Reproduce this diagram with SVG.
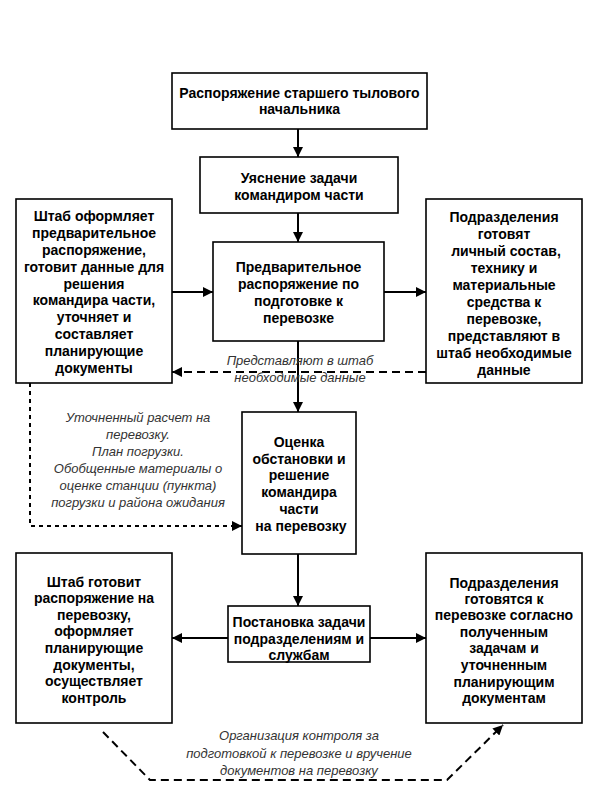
<svg xmlns="http://www.w3.org/2000/svg" width="599" height="793" viewBox="0 0 599 793">
<style>
.box{fill:#fff;stroke:#000;stroke-width:1.6}
.t{font-family:"Liberation Sans",Arial,sans-serif;font-weight:bold;font-size:14px;text-anchor:middle;fill:#000}
.i{font-family:"Liberation Sans",Arial,sans-serif;font-style:italic;font-size:13px;text-anchor:middle;fill:#333}
.ln{fill:none;stroke:#000;stroke-width:2}
.d{fill:none;stroke:#000;stroke-width:2;stroke-dasharray:8,5}
.d2{fill:none;stroke:#000;stroke-width:2;stroke-dasharray:4,4}
</style>
<defs>
<marker id="a" viewBox="0 0 10 10" refX="10" refY="5" markerWidth="5" markerHeight="5" orient="auto" markerUnits="strokeWidth">
<path d="M0,0L10,5L0,10z" fill="#000"/>
</marker>
</defs>
<rect width="599" height="793" fill="#fff"/>
<g id="connectors">
<path class="ln" d="M298,129V157" marker-end="url(#a)"/>
<path class="ln" d="M298,213V242" marker-end="url(#a)"/>
<path class="ln" d="M172,292H213" marker-end="url(#a)"/>
<path class="ln" d="M384,292H426" marker-end="url(#a)"/>
<path class="ln" d="M298,341V412" marker-end="url(#a)"/>
<path class="d" d="M426,372H172" marker-end="url(#a)"/>
<path class="d2" d="M30,383V526H242" marker-end="url(#a)"/>
<path class="ln" d="M298,554V606" marker-end="url(#a)"/>
<path class="ln" d="M228,638H172" marker-end="url(#a)"/>
<path class="ln" d="M370,638H426" marker-end="url(#a)"/>
<path class="d" d="M103,732L150,780H447L503,725" marker-end="url(#a)"/>
</g>
<g id="n1">
<rect class="box" x="172" y="73" width="255" height="56"/>
<text class="t" x="299.5" y="98">Распоряжение старшего тылового</text>
<text class="t" x="299.5" y="114">начальника</text>
</g>
<g id="n2">
<rect class="box" x="200" y="157" width="198" height="56"/>
<text class="t" x="299" y="183">Уяснение задачи</text>
<text class="t" x="299" y="200">командиром части</text>
</g>
<g id="n3">
<rect class="box" x="213" y="242" width="171" height="99"/>
<text class="t" x="298.5" y="272">Предварительное</text>
<text class="t" x="298.5" y="289">распоряжение по</text>
<text class="t" x="298.5" y="306">подготовке к</text>
<text class="t" x="298.5" y="323">перевозке</text>
</g>
<g id="n4">
<rect class="box" x="16" y="199" width="156" height="184"/>
<text class="t" x="94" y="221">Штаб оформляет</text>
<text class="t" x="94" y="238">предварительное</text>
<text class="t" x="94" y="255">распоряжение,</text>
<text class="t" x="94" y="272">готовит данные для</text>
<text class="t" x="94" y="289">решения</text>
<text class="t" x="94" y="305">командира части,</text>
<text class="t" x="94" y="322">уточняет и</text>
<text class="t" x="94" y="339">составляет</text>
<text class="t" x="94" y="356">планирующие</text>
<text class="t" x="94" y="373">документы</text>
</g>
<g id="n5">
<rect class="box" x="426" y="199" width="156" height="184"/>
<text class="t" x="504" y="222">Подразделения</text>
<text class="t" x="504" y="239">готовят</text>
<text class="t" x="506" y="256">личный состав,</text>
<text class="t" x="504" y="273">технику и</text>
<text class="t" x="504" y="290">материальные</text>
<text class="t" x="504" y="307">средства к</text>
<text class="t" x="504" y="324">перевозке,</text>
<text class="t" x="504" y="341">представляют в</text>
<text class="t" x="504" y="358">штаб необходимые</text>
<text class="t" x="504" y="375">данные</text>
</g>
<g id="lbl1">
<text class="i" x="300" y="365">Представляют в штаб</text>
<text class="i" x="300" y="382">необходимые данные</text>
</g>
<g id="lbl2">
<text class="i" x="138" y="422">Уточненный расчет на</text>
<text class="i" x="138" y="439">перевозку.</text>
<text class="i" x="138" y="456">План погрузки.</text>
<text class="i" x="138" y="473">Обобщенные материалы о</text>
<text class="i" x="138" y="490">оценке станции (пункта)</text>
<text class="i" x="138" y="507">погрузки и района ожидания</text>
</g>
<g id="n6">
<rect class="box" x="242" y="412" width="114" height="142"/>
<text class="t" x="299" y="447">Оценка</text>
<text class="t" x="299" y="464">обстановки и</text>
<text class="t" x="299" y="480">решение</text>
<text class="t" x="299" y="497">командира</text>
<text class="t" x="299" y="514">части</text>
<text class="t" x="301" y="531">на перевозку</text>
</g>
<g id="n7">
<rect class="box" x="228" y="606" width="142" height="56"/>
<text class="t" x="299" y="627">Постановка задачи</text>
<text class="t" x="299" y="644">подразделениям и</text>
<text class="t" x="299" y="660">службам</text>
</g>
<g id="n8">
<rect class="box" x="16" y="553" width="156" height="170"/>
<text class="t" x="94" y="587">Штаб готовит</text>
<text class="t" x="94" y="603">распоряжение на</text>
<text class="t" x="94" y="620">перевозку,</text>
<text class="t" x="94" y="636">оформляет</text>
<text class="t" x="94" y="653">планирующие</text>
<text class="t" x="94" y="670">документы,</text>
<text class="t" x="94" y="686">осуществляет</text>
<text class="t" x="94" y="703">контроль</text>
</g>
<g id="n9">
<rect class="box" x="426" y="553" width="156" height="170"/>
<text class="t" x="504" y="588">Подразделения</text>
<text class="t" x="504" y="604">готовятся к</text>
<text class="t" x="504" y="620">перевозке согласно</text>
<text class="t" x="504" y="637">полученным</text>
<text class="t" x="504" y="653">задачам и</text>
<text class="t" x="504" y="670">уточненным</text>
<text class="t" x="504" y="687">планирующим</text>
<text class="t" x="504" y="703">документам</text>
</g>
<g id="lbl3">
<text class="i" x="299" y="740">Организация контроля за</text>
<text class="i" x="299" y="758">подготовкой к перевозке и вручение</text>
<text class="i" x="299" y="775">документов на перевозку</text>
</g>
</svg>
